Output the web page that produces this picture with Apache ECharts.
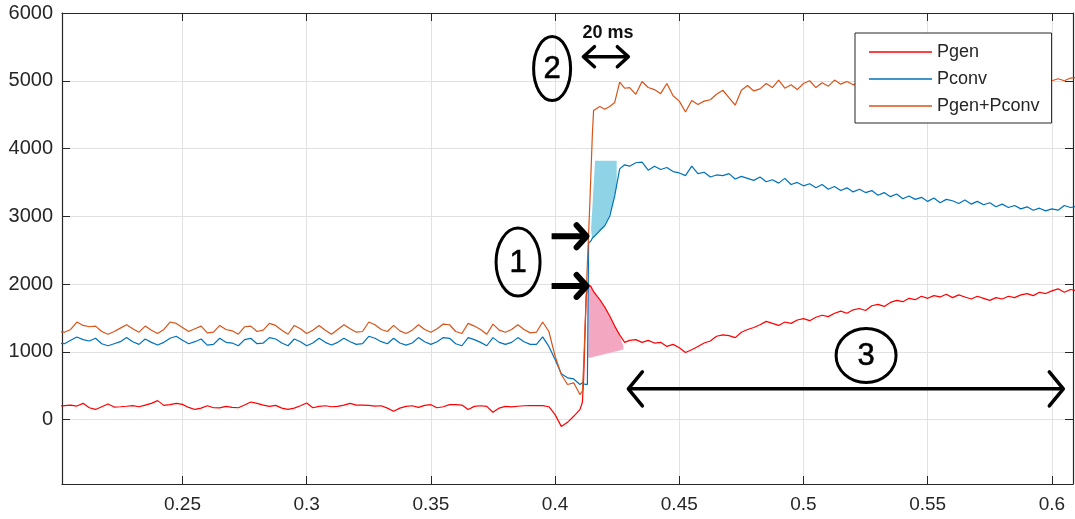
<!DOCTYPE html>
<html><head><meta charset="utf-8">
<script src="https://cdn.jsdelivr.net/npm/echarts@6/dist/echarts.min.js"></script>
<style>html,body{margin:0;padding:0;background:#fff}#c{width:1075px;height:519px}</style>
</head><body><div id="c"></div>
<script>
// ---- data ----
const times = [
0.2000,0.2025,0.2050,0.2075,0.2100,0.2125,0.2150,0.2175,0.2200,0.2225,
0.2250,0.2275,0.2300,0.2325,0.2350,0.2375,0.2400,0.2425,0.2450,0.2475,
0.2500,0.2525,0.2550,0.2575,0.2600,0.2625,0.2650,0.2675,0.2700,0.2725,
0.2750,0.2775,0.2800,0.2825,0.2850,0.2875,0.2900,0.2925,0.2950,0.2975,
0.3000,0.3025,0.3050,0.3075,0.3100,0.3125,0.3150,0.3175,0.3200,0.3225,
0.3250,0.3275,0.3300,0.3325,0.3350,0.3375,0.3400,0.3425,0.3450,0.3475,
0.3500,0.3525,0.3550,0.3575,0.3600,0.3625,0.3650,0.3675,0.3700,0.3725,
0.3750,0.3775,0.3800,0.3825,0.3850,0.3875,0.3900,0.3925,0.3950,
0.3975,0.4000,0.4025,0.4050,0.4075,0.4100,0.4105,0.4110,0.4115,0.4120,
0.4125,0.4130,0.4135,0.4140,0.4145,0.4150,0.4155,0.4160,0.4180,0.4200,
0.4220,0.4240,0.4260,0.4280,0.4300,
0.4325,0.4350,0.4375,0.4400,0.4425,0.4450,0.4475,0.4500,0.4525,0.4550,
0.4575,0.4600,0.4625,0.4650,0.4675,0.4700,0.4725,0.4750,0.4775,0.4800,
0.4825,0.4850,0.4875,0.4900,0.4925,0.4950,0.4975,0.5000,0.5025,0.5050,
0.5075,0.5100,0.5125,0.5150,0.5175,0.5200,0.5225,0.5250,0.5275,0.5300,
0.5325,0.5350,0.5375,0.5400,0.5425,0.5450,0.5475,0.5500,0.5525,0.5550,
0.5575,0.5600,0.5625,0.5650,0.5675,0.5700,0.5725,0.5750,0.5775,0.5800,
0.5825,0.5850,0.5875,0.5900,0.5925,0.5950,0.5975,0.6000,0.6025,0.6050,
0.6075,0.6100
];
const pgen = [
197,207,215,200,240,175,150,190,230,185,
190,197,207,190,215,240,280,210,222,240,
225,180,150,170,205,175,173,195,180,175,
215,260,240,215,195,210,170,150,170,205,
245,175,195,205,190,195,215,240,215,215,
210,200,205,170,123,170,195,205,180,210,
220,175,190,222,222,215,150,195,205,195,
108,170,195,188,197,205,207,207,207,
190,74,-100,-40,49,148,200,260,600,1200,
1800,1950,1985,1995,1960,1920,1890,1875,1770,1660,
1530,1380,1250,1140,1170,
1180,1140,1170,1130,1140,1080,1110,1060,990,1030,
1080,1130,1160,1230,1250,1240,1210,1290,1330,1360,
1400,1450,1420,1390,1440,1420,1470,1490,1460,1510,
1540,1520,1570,1600,1570,1620,1640,1610,1680,1700,
1670,1730,1760,1740,1790,1770,1820,1790,1830,1810,
1850,1800,1840,1810,1780,1820,1790,1760,1800,1780,
1820,1800,1840,1860,1830,1880,1860,1900,1930,1880,
1920,1900
];
const pconv = [
1130,1120,1170,1220,1180,1160,1200,1120,1090,1120,
1150,1210,1150,1110,1190,1140,1100,1140,1200,1230,
1170,1120,1150,1190,1100,1110,1200,1140,1130,1090,
1180,1200,1120,1130,1210,1190,1130,1090,1190,1150,
1090,1130,1200,1140,1100,1140,1200,1150,1110,1120,
1230,1200,1150,1120,1200,1130,1100,1130,1210,1150,
1110,1150,1210,1200,1120,1090,1210,1180,1140,1090,
1210,1140,1110,1140,1210,1150,1110,1110,1220,
1080,888,676,617,600,518,530,545,540,520,
510,520,2600,2620,2640,2680,2700,2710,2790,2860,
3000,3300,3700,3760,3740,
3790,3800,3680,3740,3690,3720,3660,3640,3600,3740,
3630,3650,3580,3610,3600,3630,3550,3590,3560,3530,
3580,3510,3540,3490,3560,3470,3500,3450,3480,3420,
3470,3400,3440,3380,3420,3360,3400,3350,3380,3310,
3350,3290,3330,3260,3300,3250,3280,3220,3270,3200,
3250,3230,3190,3240,3180,3220,3170,3200,3140,3180,
3130,3160,3110,3140,3090,3120,3080,3110,3090,3160,
3130,3150
];
const psum = [
1300,1290,1330,1440,1390,1370,1380,1300,1260,1300,
1350,1400,1340,1290,1380,1320,1270,1330,1440,1420,
1360,1300,1340,1380,1280,1290,1390,1330,1310,1260,
1370,1380,1300,1320,1420,1390,1320,1260,1390,1340,
1270,1320,1390,1320,1260,1330,1400,1340,1290,1300,
1440,1400,1330,1300,1390,1310,1270,1320,1400,1330,
1290,1340,1410,1400,1300,1270,1420,1380,1330,1260,
1410,1320,1290,1330,1400,1330,1280,1290,1440,
1300,937,666,518,543,370,345,420,800,1300,
1800,2300,2750,3200,3700,4200,4560,4580,4620,4580,
4620,4680,4980,4890,4900,
4800,4990,4900,4870,4810,4960,4780,4700,4540,4710,
4650,4700,4720,4800,4860,4750,4640,4860,4930,4850,
4880,4960,4900,5010,4890,4940,4870,4960,5000,4900,
4970,4920,5010,4950,4990,4940,4980,5000,4960,5010,
4970,5030,4980,5020,4960,5040,4990,5030,4980,5050,
5000,5040,4990,5050,5000,5040,4980,5030,4970,5010,
5050,4990,5030,5000,5040,4980,5020,5000,5030,5000,
5040,5050
];
const seriesNames = ['Pgen', 'Pconv', 'Pgen+Pconv'];
const xTicks = [0.25, 0.3, 0.35, 0.4, 0.45, 0.5, 0.55, 0.6];
const yTicks = [0, 1000, 2000, 3000, 4000, 5000, 6000];
// shaded patches (time, power)
const cyanPatch = [[0.4145,2810],[0.4161,3820],[0.4248,3820],[0.4248,3480],[0.4233,3180],[0.4213,2960],[0.4193,2830],[0.4169,2740],[0.4149,2665]];
const pinkPatch = [[0.4134,1925],[0.4141,1999],[0.4161,1875],[0.4181,1752],[0.4208,1604],[0.4235,1431],[0.4255,1283],[0.4275,1085],[0.4275,1036],[0.4141,913],[0.4134,913]];
// annotation anchors (time, power)
const circledText = ['1', '2', '3'];
const circledAt = [[0.3851, 2324], [0.3988, 5181], [0.5252, 947]];
const arrowsAt = [
  [0.3986, 2705, 0.4127, 2705],
  [0.3986, 1973, 0.4127, 1973],
  [0.4114, 5355, 0.4295, 5355],
  [0.4295, 454, 0.6046, 454]
];
const noteText = ['20 ms'];
const noteAt = [[0.4213, 5711]];

// ---- styles ----
const circleSizes = [{rx:22, ry:34}, {rx:18.5, ry:32}, {rx:30, ry:27}];
const arrowStyles = [
  {w:6, len:10, half:11, both:false},
  {w:6, len:10, half:11, both:false},
  {w:3.5, len:11, half:10, both:true},
  {w:3.5, len:14, half:17, both:true}
];
const FONT = '"Liberation Sans", Arial, sans-serif';
const AX = '#262626';
const lineColors = ['#ff0000', '#0072bd', '#d95319'];

const chart = echarts.init(document.getElementById('c'), null, {renderer: 'canvas'});

function pairs(vals) { return times.map((t, i) => [t, vals[i]]); }

function patchRenderer(pts, color) {
  return function (params, api) {
    if (params.dataIndex !== 0) return null;
    return {type: 'polygon', shape: {points: pts.map(p => api.coord(p))}, style: {fill: color}};
  };
}

function renderCircled(params, api) {
  const p = api.coord([api.value(0), api.value(1)]);
  const s = circleSizes[params.dataIndex];
  return {type: 'group', children: [
    {type: 'ellipse', shape: {cx: p[0], cy: p[1], rx: s.rx, ry: s.ry}, style: {fill: 'transparent', stroke: '#000', lineWidth: 3}},
    {type: 'text', x: p[0], y: p[1] + 1, style: {text: circledText[params.dataIndex], fill: '#000', font: '31px ' + FONT, align: 'center', verticalAlign: 'middle', textAlign: 'center', textVerticalAlign: 'middle', stroke: '#000', lineWidth: 0.6}}
  ]};
}

function renderArrow(params, api) {
  const a = api.coord([api.value(0), api.value(1)]);
  const b = api.coord([api.value(2), api.value(3)]);
  const st = arrowStyles[params.dataIndex];
  const dx = b[0] - a[0], dy = b[1] - a[1];
  const L = Math.hypot(dx, dy), ux = dx / L, uy = dy / L, nx = -uy, ny = ux;
  const head = (tip, dir) => ({
    type: 'polyline',
    shape: {points: [
      [tip[0] - dir * ux * st.len + nx * st.half, tip[1] - dir * uy * st.len + ny * st.half],
      tip,
      [tip[0] - dir * ux * st.len - nx * st.half, tip[1] - dir * uy * st.len - ny * st.half]
    ]},
    style: {stroke: '#000', lineWidth: st.w, fill: null, lineJoin: 'round', lineCap: 'round'}
  });
  const children = [
    {type: 'line', shape: {x1: a[0], y1: a[1], x2: b[0], y2: b[1]}, style: {stroke: '#000', lineWidth: st.w, lineCap: 'butt'}},
    head(b, 1)
  ];
  if (st.both) children.push(head(a, -1));
  return {type: 'group', children};
}

function renderNote(params, api) {
  const p = api.coord([api.value(0), api.value(1)]);
  return {type: 'text', x: p[0], y: p[1], style: {text: noteText[params.dataIndex], fill: '#111', font: 'bold 18px ' + FONT, align: 'center', verticalAlign: 'middle', textAlign: 'center', textVerticalAlign: 'middle'}};
}

const xMin = 0.2015, xMax = 0.6085, yMin = -950, yMax = 6000;
const legendLine = 'path://M0,0h63v1.6h-63z';

const option = {
  animation: false,
  backgroundColor: '#fff',
  grid: {left: 62, right: 2, top: 13, bottom: 35, containLabel: false},
  xAxis: [
    {type: 'value', position: 'bottom', min: xMin, max: xMax,
     axisLine: {show: true, onZero: false, lineStyle: {color: AX, width: 1.2}},
     axisTick: {show: true, inside: true, length: 8, customValues: xTicks, lineStyle: {color: AX}},
     axisLabel: {customValues: xTicks, margin: 11, color: AX, fontSize: 19, fontFamily: FONT, formatter: v => String(v)},
     splitLine: {show: true, lineStyle: {color: '#e1e1e1', width: 1}}},
    {type: 'value', position: 'top', min: xMin, max: xMax,
     axisLine: {show: true, onZero: false, lineStyle: {color: AX, width: 1.2}},
     axisTick: {show: true, inside: true, length: 8, customValues: xTicks, lineStyle: {color: AX}},
     axisLabel: {show: false}, splitLine: {show: false}}
  ],
  yAxis: [
    {type: 'value', position: 'left', min: yMin, max: yMax,
     axisLine: {show: true, onZero: false, lineStyle: {color: AX, width: 1.2}},
     axisTick: {show: true, inside: true, length: 8, customValues: yTicks, lineStyle: {color: AX}},
     axisLabel: {customValues: yTicks, margin: 9, color: AX, fontSize: 20, fontFamily: FONT, formatter: v => String(v)},
     splitLine: {show: true, lineStyle: {color: '#e1e1e1', width: 1}}},
    {type: 'value', position: 'right', min: yMin, max: yMax,
     axisLine: {show: true, onZero: false, lineStyle: {color: AX, width: 1.2}},
     axisTick: {show: true, inside: true, length: 8, customValues: yTicks, lineStyle: {color: AX}},
     axisLabel: {show: false}, splitLine: {show: false}}
  ],
  legend: {
    data: seriesNames.map((n, i) => ({name: n, icon: legendLine, itemStyle: {color: lineColors[i]}})),
    orient: 'vertical', left: 855, top: 33,
    itemWidth: 63, itemHeight: 14, itemGap: 9, padding: [10, 12, 8, 14],
    borderColor: AX, borderWidth: 1, borderRadius: 0, backgroundColor: '#fff',
    textStyle: {fontSize: 18, color: AX, fontFamily: FONT}, selectedMode: false
  },
  series: [
    {type: 'custom', name: 'cyan', silent: true, z: 1, data: cyanPatch, encode: {x: 0, y: 1}, renderItem: patchRenderer(cyanPatch, '#8fd4e6')},
    {type: 'custom', name: 'pink', silent: true, z: 1, data: pinkPatch, encode: {x: 0, y: 1}, renderItem: patchRenderer(pinkPatch, '#f4a7c1')},
    {type: 'line', name: seriesNames[0], data: pairs(pgen), symbol: 'none', showSymbol: false, z: 2, lineStyle: {color: lineColors[0], width: 1.2}, itemStyle: {color: lineColors[0]}},
    {type: 'line', name: seriesNames[1], data: pairs(pconv), symbol: 'none', showSymbol: false, z: 2, lineStyle: {color: lineColors[1], width: 1.2}, itemStyle: {color: lineColors[1]}},
    {type: 'line', name: seriesNames[2], data: pairs(psum), symbol: 'none', showSymbol: false, z: 2, lineStyle: {color: lineColors[2], width: 1.2}, itemStyle: {color: lineColors[2]}},
    {type: 'custom', name: 'circled', silent: true, z: 5, data: circledAt, encode: {x: 0, y: 1}, renderItem: renderCircled},
    {type: 'custom', name: 'arrows', silent: true, z: 5, data: arrowsAt, encode: {x: [0, 2], y: [1, 3]}, renderItem: renderArrow},
    {type: 'custom', name: 'note', silent: true, z: 5, data: noteAt, encode: {x: 0, y: 1}, renderItem: renderNote}
  ]
};
chart.setOption(option);
</script>
</body></html>
